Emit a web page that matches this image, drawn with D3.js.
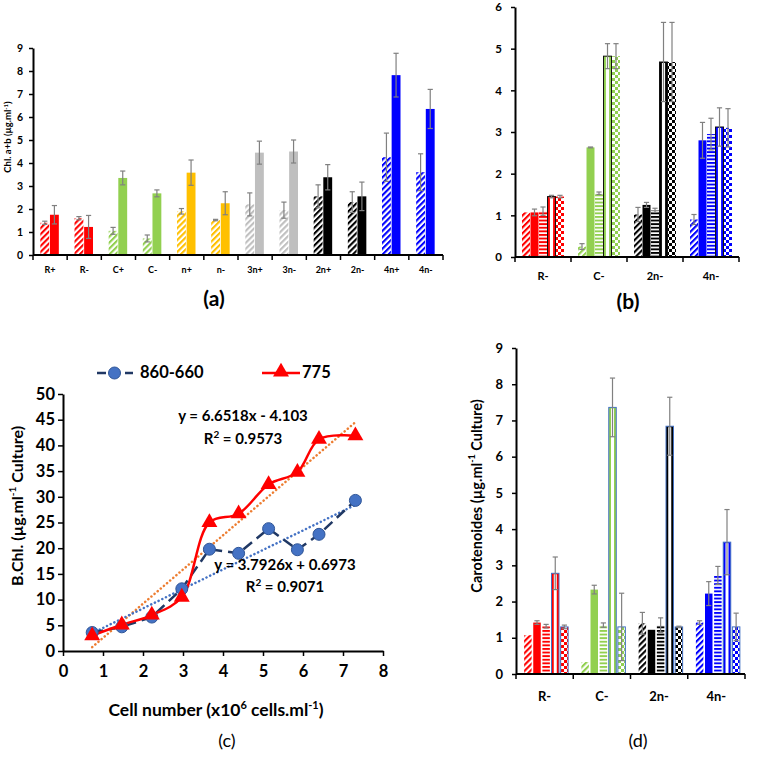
<!DOCTYPE html>
<html><head><meta charset="utf-8">
<script src="https://cdn.jsdelivr.net/npm/d3@7"></script>
<style>
body{margin:0;background:#fff}
svg{display:block}
text{font-family:Lato,"Open Sans",sans-serif;font-weight:700;fill:#000}
</style>
</head><body>
<svg id="fig" width="757" height="757"></svg>
<script>
// ---------- Panel (a) data ----------
const aCats = ["R+","R-","C+","C-","n+","n-","3n+","3n-","2n+","2n-","4n+","4n-"];
const aColorKeys = ["R","R","C","C","n","n","3n","3n","2n","2n","4n","4n"];
const aHatched = [1.4,1.6,1.05,0.72,1.9,1.52,2.2,1.95,2.55,2.3,4.25,3.6];
const aHatchedErr = [0.07,0.07,0.15,0.15,0.12,0.03,0.5,0.35,0.5,0.45,1.05,0.8];
const aSolid = [1.75,1.22,3.35,2.68,3.58,2.25,4.45,4.5,3.38,2.55,7.82,6.35];
const aSolidErr = [0.4,0.5,0.3,0.15,0.55,0.5,0.5,0.5,0.55,0.62,0.95,0.85];
const aTicks = [0,1,2,3,4,5,6,7,8,9];

// ---------- Panel (b) data ----------
const bCats = ["R-","C-","2n-","4n-"];
const bColorKeys = ["R","C","2n","4n"];
const bPatterns = ["diag","solid","horiz","vert","check"];
const bValues = [[1.07,1.07,1.1,1.45,1.45],[0.25,2.63,1.53,4.82,4.82],[1.02,1.25,1.12,4.68,4.68],[0.9,2.8,2.95,3.12,3.1]];
const bErr = [[0,0.08,0.1,0.03,0.03],[0.07,0.01,0.03,0.3,0.3],[0.17,0.06,0.05,0.95,0.95],[0.12,0.43,0.38,0.46,0.46]];
const bTicks = [0,1,2,3,4,5,6];

// ---------- Panel (c) data ----------
const cX = [0.73,1.47,2.22,2.97,3.66,4.39,5.14,5.86,6.40,7.31];
const c860 = [3.6,4.7,6.6,12.1,19.8,19.0,23.8,19.7,22.7,29.3];
const c775 = [3.0,5.1,7.0,10.5,25.0,26.7,32.4,34.8,41.2,41.9];
const cTrend775 = {slope:6.6518, intercept:-4.103, r2:"0.9573"};
const cTrend860 = {slope:3.7926, intercept:0.6973, r2:"0.9071"};
const cXTicks = [0,1,2,3,4,5,6,7,8];
const cYTicks = [0,5,10,15,20,25,30,35,40,45,50];

// ---------- Panel (d) data ----------
const dCats = ["R-","C-","2n-","4n-"];
const dColorKeys = ["R","C","2n","4n"];
const dValues = [[1.07,1.42,1.32,2.78,1.3],[0.33,2.33,1.35,7.36,1.3],[1.4,1.22,1.35,6.84,1.3],[1.42,2.22,2.72,3.64,1.3]];
const dErr = [[0,0.05,0.05,0.45,0.05],[0,0.12,0.06,0.81,0.93],[0.3,0,0.2,0.8,0.02],[0.05,0.33,0.25,0.9,0.38]];
const dTicks = [0,1,2,3,4,5,6,7,8,9];

const palette = {R:"#ff0000", C:"#92d050", n:"#ffc000", "3n":"#bfbfbf", "2n":"#000000", "4n":"#0000ff"};
const errColor = "#808080";
const intFmt = d3.format("d");

const svg = d3.select("#fig");
const defs = svg.append("defs");

function patternFill(type, color){
  if(type === "solid" || type === "vert") return color;
  const id = type + "_" + color.replace("#","");
  if(defs.select("#"+id).empty()){
    if(type === "diag"){
      const p = defs.append("pattern").attr("id",id).attr("patternUnits","userSpaceOnUse")
        .attr("width",4.2).attr("height",4.2).attr("patternTransform","rotate(45)");
      p.append("rect").attr("width",4.2).attr("height",4.2).attr("fill","#fff");
      p.append("rect").attr("width",2.1).attr("height",4.2).attr("fill",color);
    } else if(type === "horiz"){
      const p = defs.append("pattern").attr("id",id).attr("patternUnits","userSpaceOnUse")
        .attr("width",4).attr("height",3.6);
      p.append("rect").attr("width",4).attr("height",3.6).attr("fill","#fff");
      p.append("rect").attr("width",4).attr("height",1.9).attr("fill",color);
    } else if(type === "check"){
      const p = defs.append("pattern").attr("id",id).attr("patternUnits","userSpaceOnUse")
        .attr("width",6).attr("height",6);
      p.append("rect").attr("width",6).attr("height",6).attr("fill","#fff");
      p.append("rect").attr("width",3).attr("height",3).attr("fill",color);
      p.append("rect").attr("x",3).attr("y",3).attr("width",3).attr("height",3).attr("fill",color);
    }
  }
  return `url(#${id})`;
}

function errorBar(g, cx, y, v, e){
  if(!(e > 0)) return;
  const y1 = y(v+e), y0 = y(Math.max(0, v-e));
  g.append("line").attr("x1",cx).attr("x2",cx).attr("y1",y1).attr("y2",y0)
    .attr("stroke",errColor).attr("stroke-width",1.2);
  [y1,y0].forEach(yy => g.append("line").attr("x1",cx-2.6).attr("x2",cx+2.6).attr("y1",yy).attr("y2",yy)
    .attr("stroke",errColor).attr("stroke-width",1.2));
}

function styleAxis(g, fontSize){
  g.select(".domain").attr("stroke","#000").attr("stroke-width",2);
  g.selectAll(".tick line").attr("stroke","#000").attr("stroke-width",1.5);
  g.selectAll(".tick text").attr("font-size",fontSize).attr("fill","#000")
    .attr("font-family","Lato, 'Open Sans', sans-serif").attr("font-weight",700);
}

function catAxis(g, x, yBase, labelY, fontSize, tickLen){
  const r = x.range();
  g.append("line").attr("x1",r[0]).attr("x2",r[1]).attr("y1",yBase).attr("y2",yBase)
    .attr("stroke","#000").attr("stroke-width",2);
  const bounds = x.domain().map(c => x(c)).concat([r[1]]);
  bounds.forEach(bx => g.append("line").attr("x1",bx).attr("x2",bx).attr("y1",yBase).attr("y2",yBase+tickLen)
    .attr("stroke","#000").attr("stroke-width",1.5));
  x.domain().forEach(c => g.append("text").attr("x",x(c)+x.bandwidth()/2).attr("y",labelY)
    .attr("text-anchor","middle").attr("dominant-baseline","middle").attr("font-size",fontSize).text(c));
}

// ================= Panel (a) =================
{
  const g = svg.append("g");
  const x = d3.scaleBand().domain(aCats).range([33,443]);
  const y = d3.scaleLinear().domain([0,9]).range([255,48]);
  const inner = d3.scaleBand().domain(["h","s"]).range([0,18.5]).paddingInner(0.08);
  aCats.forEach((c,i) => {
    const col = palette[aColorKeys[i]];
    const gx = x(c) + (x.bandwidth()-18.5)/2 - 0.5;
    [["h",aHatched[i],aHatchedErr[i],patternFill("diag",col)],["s",aSolid[i],aSolidErr[i],col]].forEach(([k,v,e,f]) => {
      const bx = gx + inner(k);
      g.append("rect").attr("x",bx).attr("y",y(v)).attr("width",inner.bandwidth()).attr("height",y(0)-y(v)).attr("fill",f);
      errorBar(g, bx+inner.bandwidth()/2, y, v, e);
    });
  });
  const ya = g.append("g").attr("transform","translate(33,0)")
    .call(d3.axisLeft(y).tickValues(aTicks).tickFormat(intFmt).tickSize(4).tickSizeOuter(0).tickPadding(6));
  styleAxis(ya, 10.5);
  catAxis(g, x, 255, 271, 9, 5);
  g.append("text").attr("transform","translate(9,137) rotate(-90)").attr("text-anchor","middle")
    .attr("dominant-baseline","middle").attr("font-size",9.5)
    .html('Chl. a+b (µg.ml<tspan dy="-3" font-size="6">-1</tspan><tspan dy="3">)</tspan>');
  g.append("text").attr("x",214).attr("y",301).attr("text-anchor","middle").attr("dominant-baseline","middle")
    .attr("font-size",21).text("(a)");
}

// ================= Panel (b) =================
{
  const g = svg.append("g");
  const x = d3.scaleBand().domain(bCats).range([515,739]);
  const y = d3.scaleLinear().domain([0,6]).range([257,7]);
  const gw = 42;
  const inner = d3.scaleBand().domain(bPatterns).range([0,gw]).paddingInner(0.06);
  bCats.forEach((c,i) => {
    const col = palette[bColorKeys[i]];
    const gx = x(c) + (x.bandwidth()-gw)/2;
    bPatterns.forEach((p,j) => {
      const v = bValues[i][j], e = bErr[i][j];
      const bx = gx + inner(p), bw = inner.bandwidth();
      const r = g.append("rect").attr("x",bx).attr("y",y(v)).attr("width",bw).attr("height",y(0)-y(v))
        .attr("fill",patternFill(p,col));
      if(p === "vert"){
        r.attr("stroke","#111").attr("stroke-width",1);
        g.append("rect").attr("x",bx+bw*0.3).attr("y",y(v)+1).attr("width",bw*0.4).attr("height",Math.max(0,y(0)-y(v)-1)).attr("fill","#fff");
      }
      errorBar(g, bx+bw/2, y, v, e);
    });
  });
  const ya = g.append("g").attr("transform","translate(515,0)")
    .call(d3.axisLeft(y).tickValues(bTicks).tickFormat(intFmt).tickSize(4).tickSizeOuter(0).tickPadding(9));
  styleAxis(ya, 11.5);
  catAxis(g, x, 257, 277, 11, 5);
  g.append("text").attr("x",628).attr("y",304).attr("text-anchor","middle").attr("dominant-baseline","middle")
    .attr("font-size",21).text("(b)");
}

// ================= Panel (c) =================
{
  const g = svg.append("g");
  const x = d3.scaleLinear().domain([0,8]).range([63,383]);
  const y = d3.scaleLinear().domain([0,50]).range([651,394]);
  const xmin = d3.min(cX), xmax = d3.max(cX);
  // trendlines
  [[cTrend775,"#ed7d31"],[cTrend860,"#4472c4"]].forEach(([t,col]) => {
    g.append("line").attr("x1",x(xmin)).attr("y1",y(t.slope*xmin+t.intercept))
      .attr("x2",x(xmax)).attr("y2",y(t.slope*xmax+t.intercept))
      .attr("stroke",col).attr("stroke-width",2.5).attr("stroke-dasharray","0.1,4").attr("stroke-linecap","round");
  });
  const pts860 = cX.map((v,i)=>[v,c860[i]]);
  const pts775 = cX.map((v,i)=>[v,c775[i]]);
  g.append("path").datum(pts860).attr("fill","none").attr("stroke","#203864").attr("stroke-width",2.5)
    .attr("stroke-dasharray","11,6")
    .attr("d", d3.line().x(d=>x(d[0])).y(d=>y(d[1])));
  g.append("path").datum(pts775).attr("fill","none").attr("stroke","#ff0000").attr("stroke-width",2.5)
    .attr("d", d3.line().x(d=>x(d[0])).y(d=>y(d[1])).curve(d3.curveCatmullRom.alpha(0.5)));
  g.selectAll("circle.p").data(pts860).enter().append("circle")
    .attr("cx",d=>x(d[0])).attr("cy",d=>y(d[1])).attr("r",6)
    .attr("fill","#4472c4").attr("stroke","#2f5597").attr("stroke-width",1);
  const tri = d3.symbol().type(d3.symbolTriangle).size(110);
  g.selectAll("path.t").data(pts775).enter().append("path")
    .attr("transform",d=>`translate(${x(d[0])},${y(d[1])})`).attr("d",tri()).attr("fill","#ff0000");

  const ya = g.append("g").attr("transform","translate(63,0)")
    .call(d3.axisLeft(y).tickValues(cYTicks).tickFormat(intFmt).tickSize(5).tickSizeOuter(0).tickPadding(3));
  styleAxis(ya, 16.5);
  const xa = g.append("g").attr("transform","translate(0,651)")
    .call(d3.axisBottom(x).tickValues(cXTicks).tickFormat(intFmt).tickSize(5).tickSizeOuter(0).tickPadding(9));
  styleAxis(xa, 16.5);

  g.append("text").attr("transform","translate(19,506) rotate(-90)").attr("text-anchor","middle")
    .attr("dominant-baseline","middle").attr("font-size",16)
    .html('B.Chl. (µg.ml<tspan dy="-6" font-size="10">-1</tspan><tspan dy="6"> Culture)</tspan>');
  g.append("text").attr("x",216).attr("y",712).attr("text-anchor","middle").attr("dominant-baseline","middle")
    .attr("font-size",17.5)
    .html('Cell number (x10<tspan dy="-6" font-size="11">6</tspan><tspan dy="6"> cells.ml</tspan><tspan dy="-6" font-size="11">-1</tspan><tspan dy="6">)</tspan>');

  // equations
  g.append("text").attr("x",243).attr("y",417).attr("text-anchor","middle").attr("dominant-baseline","middle")
    .attr("font-size",15).text(`y = ${cTrend775.slope}x - ${Math.abs(cTrend775.intercept)}`);
  g.append("text").attr("x",243).attr("y",440).attr("text-anchor","middle").attr("dominant-baseline","middle")
    .attr("font-size",15).html(`R<tspan dy="-5" font-size="10">2</tspan><tspan dy="5"> = ${cTrend775.r2}</tspan>`);
  g.append("text").attr("x",285).attr("y",566).attr("text-anchor","middle").attr("dominant-baseline","middle")
    .attr("font-size",15).text(`y = ${cTrend860.slope}x + ${cTrend860.intercept}`);
  g.append("text").attr("x",285).attr("y",588).attr("text-anchor","middle").attr("dominant-baseline","middle")
    .attr("font-size",15).html(`R<tspan dy="-5" font-size="10">2</tspan><tspan dy="5"> = ${cTrend860.r2}</tspan>`);

  // legend
  const lg = g.append("g");
  lg.append("line").attr("x1",96).attr("x2",133).attr("y1",373).attr("y2",373)
    .attr("stroke","#203864").attr("stroke-width",2.5).attr("stroke-dasharray","9,5").attr("stroke-dashoffset",-1);
  lg.append("circle").attr("cx",114.5).attr("cy",373).attr("r",6).attr("fill","#4472c4").attr("stroke","#2f5597");
  lg.append("text").attr("x",140).attr("y",374).attr("dominant-baseline","middle").attr("font-size",16.5).text("860-660");
  lg.append("line").attr("x1",262).attr("x2",300).attr("y1",373).attr("y2",373)
    .attr("stroke","#ff0000").attr("stroke-width",2.5);
  lg.append("path").attr("transform","translate(281,372)").attr("d",tri()).attr("fill","#ff0000");
  lg.append("text").attr("x",302).attr("y",374).attr("dominant-baseline","middle").attr("font-size",16.5).text("775");

  g.append("text").attr("x",227).attr("y",742).attr("text-anchor","middle").attr("dominant-baseline","middle")
    .attr("font-size",18).style("font-weight",400).text("(c)");
}

// ================= Panel (d) =================
{
  const g = svg.append("g");
  const x = d3.scaleBand().domain(dCats).range([516,745]);
  const y = d3.scaleLinear().domain([0,9]).range([674,348]);
  const gw = 44;
  const inner = d3.scaleBand().domain(bPatterns).range([0,gw]).paddingInner(0.18);
  dCats.forEach((c,i) => {
    const col = palette[dColorKeys[i]];
    const gx = x(c) + (x.bandwidth()-gw)/2 + 1.5;
    bPatterns.forEach((p,j) => {
      const v = dValues[i][j], e = dErr[i][j];
      const bx = gx + inner(p), bw = inner.bandwidth();
      const r = g.append("rect").attr("x",bx).attr("y",y(v)).attr("width",bw).attr("height",y(0)-y(v))
        .attr("fill",patternFill(p,col));
      if(p === "vert" || p === "check") r.attr("stroke","#4472c4").attr("stroke-width",1);
      if(p === "vert"){
        g.append("rect").attr("x",bx+bw*0.3).attr("y",y(v)+1).attr("width",bw*0.4).attr("height",Math.max(0,y(0)-y(v)-1)).attr("fill","#fff");
      }
      errorBar(g, bx+bw/2, y, v, e);
    });
  });
  const ya = g.append("g").attr("transform","translate(516,0)")
    .call(d3.axisLeft(y).tickValues(dTicks).tickFormat(intFmt).tickSize(4).tickSizeOuter(0).tickPadding(9));
  styleAxis(ya, 13);
  catAxis(g, x, 674, 698, 13, 5);
  g.append("text").attr("transform","translate(478,496) rotate(-90)").attr("text-anchor","middle")
    .attr("dominant-baseline","middle").attr("font-size",14.5)
    .html('Carotenoides (µg.ml<tspan dy="-5" font-size="9">-1</tspan><tspan dy="5"> Culture)</tspan>');
  g.append("text").attr("x",638).attr("y",742).attr("text-anchor","middle").attr("dominant-baseline","middle")
    .attr("font-size",18).style("font-weight",400).text("(d)");
}
</script>
</body></html>
